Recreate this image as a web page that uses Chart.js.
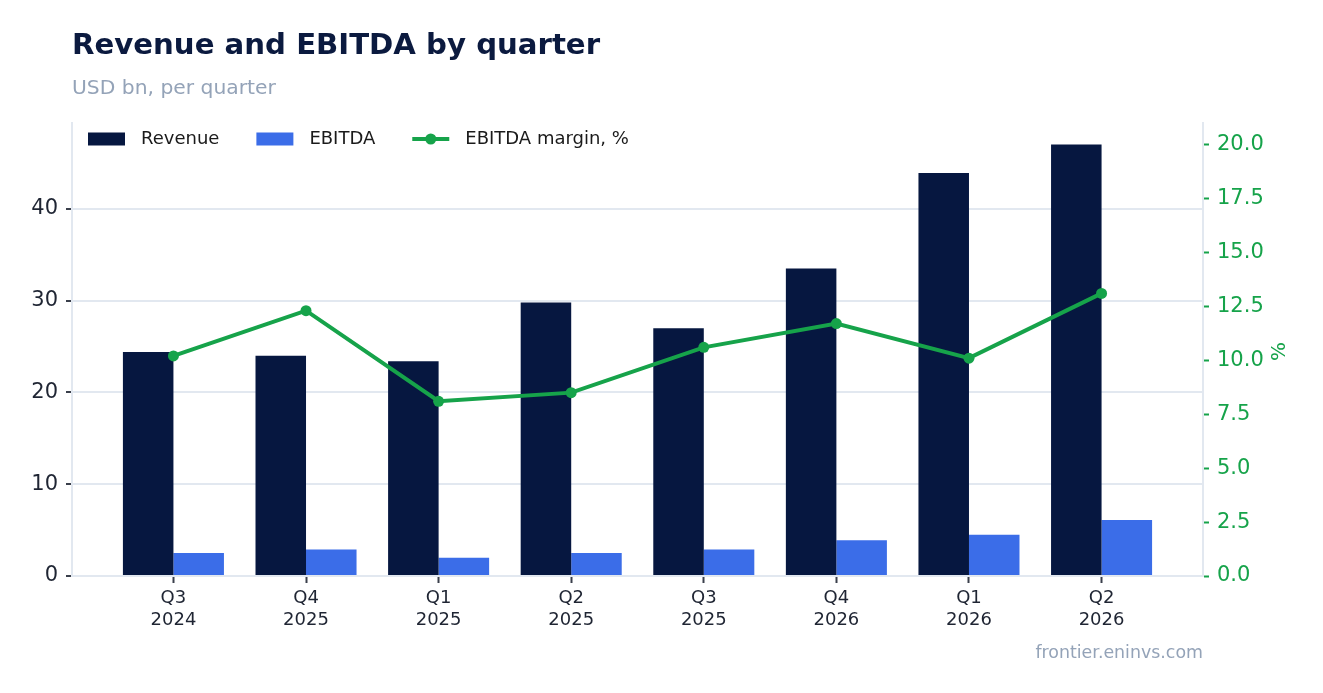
<!DOCTYPE html>
<html><head><meta charset="utf-8">
<script src="https://cdn.jsdelivr.net/npm/chart.js@4.4.1/dist/chart.umd.min.js"></script>
<style>html,body{margin:0;padding:0;background:#fff;overflow:hidden;} #wrap{position:relative;width:1323px;height:693px;}</style>
</head><body><div id="wrap"><canvas id="c" width="1323" height="693"></canvas></div>
<script>
const quarters = ['Q3','Q4','Q1','Q2','Q3','Q4','Q1','Q2'];
const years = ['2024','2025','2025','2025','2025','2026','2026','2026'];
const revenue = [24.4, 24.0, 23.4, 29.8, 27.0, 33.5, 43.9, 47.0];
const ebitda = [2.5, 2.9, 2.0, 2.5, 2.9, 3.9, 4.5, 6.1];
const margin = [10.2, 12.3, 8.1, 8.5, 10.6, 11.7, 10.1, 13.1];
const titleText = 'Revenue and EBITDA by quarter';
const subtitleText = 'USD bn, per quarter';
const footerText = 'frontier.eninvs.com';
const rightAxisTitle = '%';
const seriesNames = ['Revenue', 'EBITDA', 'EBITDA margin, %'];

const FONT = '"DejaVu Sans", sans-serif';
const NAVY = '#061740';
const BLUE = '#3b6de8';
const GREEN = '#16a34a';
const GRID = '#e2e8f0';
const TICKC = '#1f2533';
const MUTED = '#94a3b8';

const toXY = arr => arr.map((v, i) => ({ x: i, y: v }));

const deco = {
  id: 'deco',
  afterDraw(chart) {
    const ctx = chart.ctx, a = chart.chartArea;
    ctx.save();
    ctx.textBaseline = 'alphabetic';
    ctx.textAlign = 'left';
    ctx.font = 'bold 29.2px ' + FONT;
    ctx.fillStyle = '#0b1a3f';
    ctx.fillText(titleText, a.left, 54);
    ctx.font = '20.3px ' + FONT;
    ctx.fillStyle = MUTED;
    ctx.fillText(subtitleText, a.left, 94);
    ctx.font = '17.4px ' + FONT;
    ctx.textAlign = 'right';
    ctx.fillText(footerText, a.right, 658);
    // right axis title, rotated bottom-to-top
    ctx.save();
    ctx.translate(a.right + 77, (a.top + a.bottom) / 2 + 2);
    ctx.rotate(-Math.PI / 2);
    ctx.textAlign = 'center';
    ctx.textBaseline = 'middle';
    ctx.font = '20px ' + FONT;
    ctx.fillStyle = GREEN;
    ctx.fillText(rightAxisTitle, 0, 0);
    ctx.restore();
    // legend
    ctx.textAlign = 'left';
    ctx.textBaseline = 'middle';
    ctx.font = '18px ' + FONT;
    let x = a.left + 16;
    const cy = a.top + 16;
    chart.data.datasets.forEach(ds => {
      if (ds.type === 'line') {
        ctx.strokeStyle = ds.borderColor;
        ctx.lineWidth = ds.borderWidth;
        ctx.beginPath(); ctx.moveTo(x, cy); ctx.lineTo(x + 37, cy); ctx.stroke();
        ctx.fillStyle = ds.borderColor;
        ctx.beginPath(); ctx.arc(x + 18.5, cy, ds.pointRadius, 0, Math.PI * 2); ctx.fill();
      } else {
        ctx.fillStyle = ds.backgroundColor;
        ctx.fillRect(x, cy - 6.5, 37, 13);
      }
      const tx = x + 53;
      ctx.fillStyle = '#1a1a1a';
      ctx.fillText(ds.label, tx, cy);
      x = tx + ctx.measureText(ds.label).width + 37;
    });
    ctx.restore();
  }
};

new Chart(document.getElementById('c'), {
  type: 'bar',
  data: {
    datasets: [
      { type: 'bar', label: seriesNames[0], data: toXY(revenue), backgroundColor: NAVY, yAxisID: 'y', order: 1,
        categoryPercentage: 0.762, barPercentage: 1.0 },
      { type: 'bar', label: seriesNames[1], data: toXY(ebitda), backgroundColor: BLUE, yAxisID: 'y', order: 1,
        categoryPercentage: 0.762, barPercentage: 1.0 },
      { type: 'line', label: seriesNames[2], data: toXY(margin), borderColor: GREEN, backgroundColor: GREEN,
        borderWidth: 4, pointRadius: 5.5, pointBackgroundColor: GREEN, pointBorderWidth: 0,
        yAxisID: 'y1', order: 0, tension: 0 }
    ]
  },
  options: {
    responsive: false,
    animation: false,
    devicePixelRatio: 1,
    layout: { padding: { top: 123, left: 0, right: 30, bottom: 0 } },
    plugins: { legend: { display: false }, tooltip: { enabled: false }, title: { display: false } },
    scales: {
      x: {
        type: 'linear',
        offset: false,
        min: -0.765, max: quarters.length - 1 + 0.765,
        afterBuildTicks(s) { s.ticks = quarters.map((q, i) => ({ value: i })); },
        afterFit(s) { s.height = 117; },
        grid: { display: true, drawOnChartArea: false, drawTicks: true, tickLength: 7, tickColor: '#3a3f4b', tickWidth: 2, offset: false },
        border: { display: true, color: GRID, width: 2 },
        ticks: { font: { family: FONT, size: 18, lineHeight: 1.2 }, color: TICKC, padding: 5, maxRotation: 0, autoSkip: false,
          callback: (v) => [quarters[v], years[v]] }
      },
      y: {
        position: 'left',
        min: 0, max: 49.35,
        afterFit(s) { s.width = 72; },
        grid: { color: GRID, lineWidth: 2, tickColor: '#3a3f4b', tickLength: 6, tickWidth: 2 },
        border: { display: true, color: GRID, width: 2 },
        ticks: { stepSize: 10, includeBounds: false, font: { family: FONT, size: 21 }, color: TICKC, padding: 8 }
      },
      y1: {
        position: 'right',
        min: 0, max: 21,
        afterFit(s) { s.width = 90; },
        grid: { drawOnChartArea: false, tickColor: GREEN, tickLength: 6, tickWidth: 2 },
        border: { display: true, color: GRID, width: 2 },
        ticks: { stepSize: 2.5, includeBounds: false, font: { family: FONT, size: 21 }, color: GREEN, padding: 8,
          callback: v => Number(v).toFixed(1) }
      }
    }
  },
  plugins: [deco]
});
</script></body></html>
